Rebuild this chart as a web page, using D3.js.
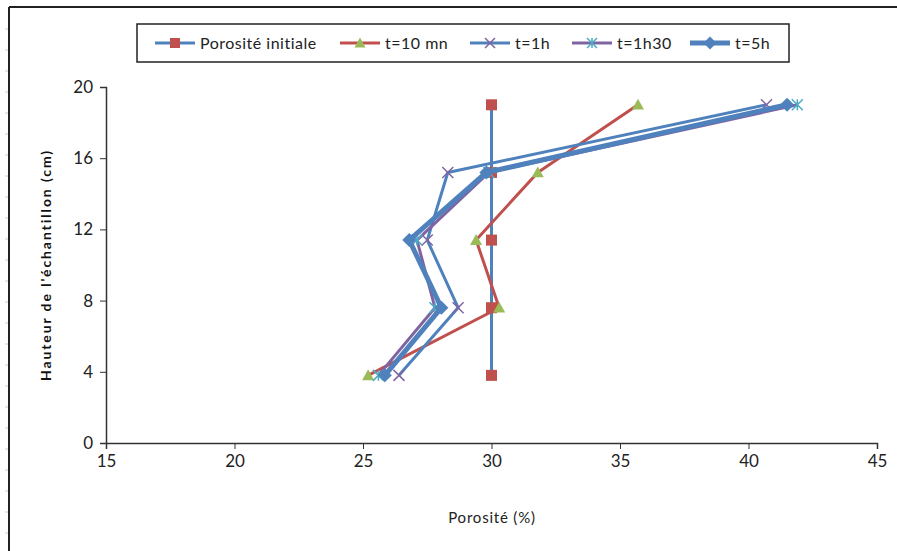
<!DOCTYPE html>
<html><head><meta charset="utf-8">
<script src="https://cdn.jsdelivr.net/npm/d3@7"></script>
<style>body{margin:0;background:#fff}svg{display:block}text{font-family:Lato,"Open Sans",sans-serif}</style>
</head><body><svg id="c" width="897" height="551"></svg>
<script>
const heights = [3.8, 7.6, 11.4, 15.2, 19];
const seriesNames = ["Porosité initiale", "t=10 mn", "t=1h", "t=1h30", "t=5h"];
const porositeInitiale = [30, 30, 30, 30, 30];
const t10mn = [25.2, 30.3, 29.4, 31.8, 35.7];
const t1h = [26.4, 28.7, 27.5, 28.3, 40.7];
const t1h30 = [25.6, 27.8, 27.1, 29.9, 41.9];
const t5h = [25.85, 28.05, 26.8, 29.8, 41.5];
const xTicks = [15, 20, 25, 30, 35, 40, 45];
const yTicks = [0, 4, 8, 12, 16, 20];

const styles = [
  {line:"#4F81BD", w:3, marker:"square", fill:"#C0504D", size:11},
  {line:"#C0504D", w:3, marker:"triangle", fill:"#9BBB59", size:12},
  {line:"#4F81BD", w:3, marker:"x", fill:"#8064A2", size:11},
  {line:"#8064A2", w:3, marker:"star", fill:"#4BACC6", size:11},
  {line:"#4F81BD", w:5, marker:"diamond", fill:"#4F81BD", size:14}
];
const values = [porositeInitiale, t10mn, t1h, t1h30, t5h];

const svg = d3.select("#c");
svg.append("line").attr("x1",9).attr("x2",897).attr("y1",7).attr("y2",7).attr("stroke","#222").attr("stroke-width",2);
svg.append("line").attr("x1",9).attr("x2",9).attr("y1",7).attr("y2",551).attr("stroke","#222").attr("stroke-width",2);
for (let yy = 29; yy < 551; yy += 21) svg.append("line").attr("x1",5).attr("x2",8).attr("y1",yy).attr("y2",yy).attr("stroke","#ccc");

const x = d3.scaleLinear().domain([15,45]).range([106,877]);
const y = d3.scaleLinear().domain([0,20]).range([443,87]);

const xAxis = svg.append("g").attr("transform","translate(0,443)")
  .call(d3.axisBottom(x).tickValues(xTicks).tickSize(6).tickPadding(6));
const yAxis = svg.append("g").attr("transform","translate(106,0)")
  .call(d3.axisLeft(y).tickValues(yTicks).tickSize(6).tickPadding(7));
[xAxis,yAxis].forEach(a=>{
  a.select(".domain").attr("stroke","#333").attr("stroke-width",1.5);
  a.selectAll(".tick line").attr("stroke","#333");
  a.selectAll("text").attr("font-size",17).attr("fill","#222").attr("font-family","Lato, sans-serif");
});

svg.append("text").attr("x",492).attr("y",523).attr("text-anchor","middle").attr("font-size",15)
  .attr("letter-spacing",0.8).attr("fill","#222").text("Porosité (%)");
svg.append("text").attr("transform","translate(51,265) rotate(-90)").attr("text-anchor","middle")
  .attr("font-size",14).attr("font-weight","bold").attr("letter-spacing",1.9).attr("fill","#111").text("Hauteur de l'échantillon  (cm)");

function drawMarker(g, type, cx, cy, s, col){
  const h = s/2;
  if (type==="square") g.append("rect").attr("x",cx-h).attr("y",cy-h).attr("width",s).attr("height",s).attr("fill",col);
  else if (type==="triangle") g.append("path").attr("d",`M${cx},${cy-h}L${cx+h},${cy+h*0.8}L${cx-h},${cy+h*0.8}Z`).attr("fill",col);
  else if (type==="diamond") g.append("path").attr("d",`M${cx},${cy-h}L${cx+h},${cy}L${cx},${cy+h}L${cx-h},${cy}Z`).attr("fill",col);
  else if (type==="x") g.append("path").attr("d",`M${cx-h},${cy-h}L${cx+h},${cy+h}M${cx-h},${cy+h}L${cx+h},${cy-h}`).attr("stroke",col).attr("stroke-width",1.5);
  else if (type==="star") g.append("path").attr("d",`M${cx-h},${cy-h}L${cx+h},${cy+h}M${cx-h},${cy+h}L${cx+h},${cy-h}M${cx},${cy-h}L${cx},${cy+h}`).attr("stroke",col).attr("stroke-width",1.5);
}

const line = d3.line().x(d=>x(d[0])).y(d=>y(d[1]));
values.forEach((vals,i)=>{
  const st = styles[i];
  const pts = vals.map((v,j)=>[v,heights[j]]);
  const g = svg.append("g");
  g.append("path").attr("d",line(pts)).attr("fill","none").attr("stroke",st.line).attr("stroke-width",st.w).attr("stroke-linejoin","round");
  pts.forEach(p=>drawMarker(g, st.marker, x(p[0]), y(p[1]), st.size, st.fill));
});

const leg = svg.append("g");
leg.append("rect").attr("x",137).attr("y",24).attr("width",652).attr("height",38).attr("fill","#fff").attr("stroke","#222").attr("stroke-width",1.5);
const legX = [155, 340, 470, 572, 690];
seriesNames.forEach((n,i)=>{
  const st = styles[i];
  const lx = legX[i];
  leg.append("line").attr("x1",lx).attr("x2",lx+40).attr("y1",43).attr("y2",43).attr("stroke",st.line).attr("stroke-width",st.w);
  drawMarker(leg, st.marker, lx+20, 43, st.size-1, st.fill);
  leg.append("text").attr("x",lx+45).attr("y",48.5).attr("font-size",16).attr("letter-spacing",0.5).attr("fill","#222").text(n);
});
</script></body></html>
